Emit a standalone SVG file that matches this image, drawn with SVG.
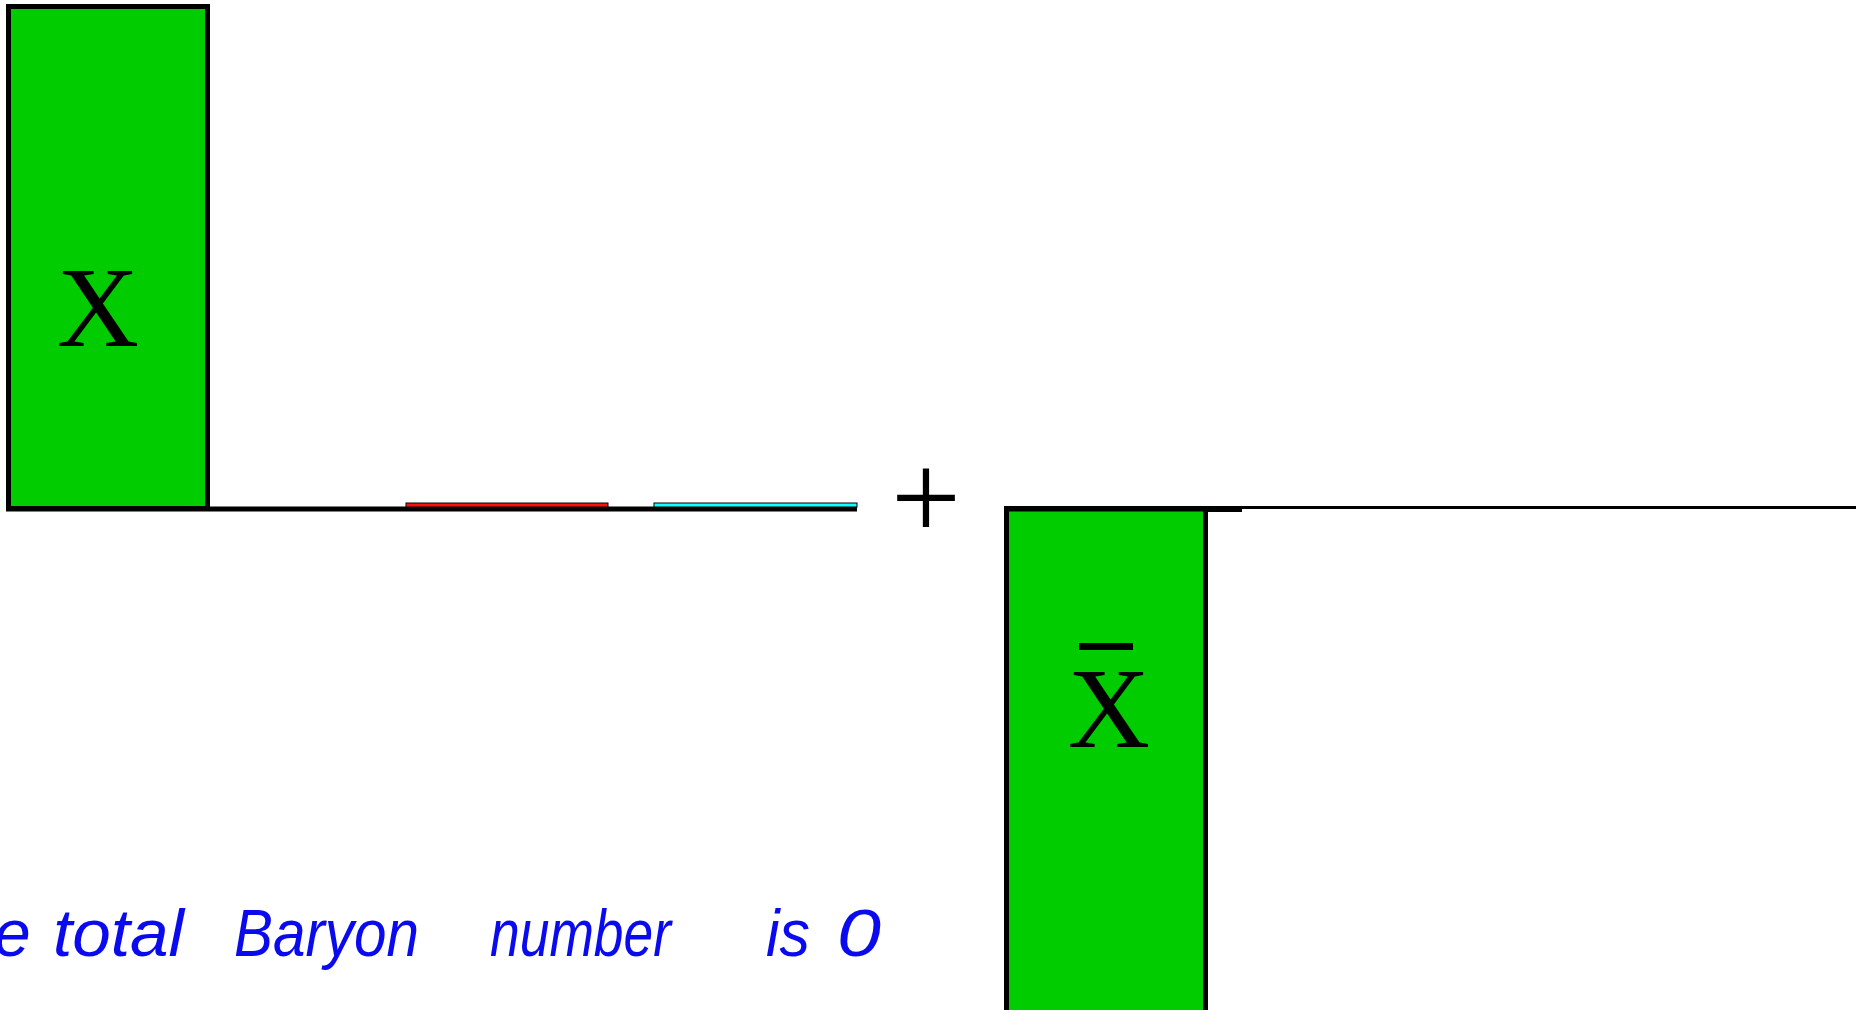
<svg xmlns="http://www.w3.org/2000/svg" width="1862" height="1010" viewBox="0 0 1862 1010">
<style>
.bar{fill:#00cc00;stroke:#000;stroke-width:5}
.lbl{font-family:"Liberation Serif",serif;font-size:114px;fill:#000;text-anchor:middle}
.axis{stroke:#000;fill:none}
.cap{font-family:"Liberation Sans",sans-serif;font-style:italic;font-size:66px;fill:#0a0aef}
</style>
<rect width="1862" height="1010" fill="#fff"/>
<g id="axes">
<line class="axis" x1="6" y1="509" x2="857" y2="509" stroke-width="5"/>
<line class="axis" x1="1004" y1="509" x2="1242" y2="509" stroke-width="6"/>
<line class="axis" x1="1242" y1="507.5" x2="1856" y2="507.5" stroke-width="3"/>
</g>
<g id="node-x">
<rect class="bar" x="8.5" y="6.5" width="199" height="502"/>
<text class="lbl" x="98" y="346">X</text>
</g>
<g id="node-red">
<rect x="406" y="503" width="202" height="4" fill="#ff1010" stroke="#000" stroke-width="1"/>
</g>
<g id="node-cyan">
<rect x="654" y="503" width="203" height="4" fill="#10ffff" stroke="#000" stroke-width="1"/>
</g>
<g id="plus">
<text x="926" y="539" font-family="Liberation Serif,serif" font-size="124" text-anchor="middle" fill="#000">+</text>
</g>
<g id="node-xbar">
<rect class="bar" x="1006.5" y="509" width="199" height="510"/>
<rect x="1079" y="643" width="54" height="7" fill="#000"/>
<text class="lbl" x="1109" y="747">X</text>
</g>
<g id="caption">
<text class="cap" y="956"><tspan x="-6">e</tspan><tspan x="53" textLength="131" lengthAdjust="spacingAndGlyphs">total</tspan><tspan x="234" textLength="185" lengthAdjust="spacingAndGlyphs">Baryon</tspan><tspan x="490" textLength="181" lengthAdjust="spacingAndGlyphs">number</tspan><tspan x="766" textLength="44" lengthAdjust="spacingAndGlyphs">is</tspan><tspan x="837" textLength="44" lengthAdjust="spacingAndGlyphs">0</tspan></text>
</g>
</svg>
